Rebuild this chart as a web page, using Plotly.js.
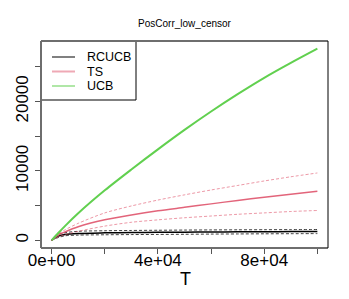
<!DOCTYPE html>
<html>
<head>
<meta charset="utf-8">
<script src="https://cdn.plot.ly/plotly-3.0.1.min.js"></script>
<style>html,body{margin:0;padding:0;background:#fff;}#chart{width:349px;height:299px;}</style>
</head>
<body>
<div id="chart"></div>
<script>
var T = [0, 2500, 5000, 10000, 20000, 30000, 40000, 50000, 60000, 70000, 80000, 90000, 100000];
var UCB = [0, 1050, 2050, 3900, 7200, 10200, 13100, 15900, 18550, 21050, 23400, 25550, 27600];
var TS = [0, 750, 1200, 1950, 2950, 3650, 4250, 4750, 5250, 5750, 6200, 6650, 7060];
var TS_upper = [0, 900, 1500, 2450, 3950, 4950, 5800, 6550, 7250, 7900, 8550, 9150, 9700];
var TS_lower = [0, 500, 800, 1300, 2050, 2600, 2950, 3250, 3500, 3750, 3950, 4150, 4300];
var RCUCB = [0, 600, 850, 1000, 1080, 1120, 1150, 1180, 1200, 1220, 1240, 1255, 1270];
var RCUCB_upper = [0, 850, 1100, 1300, 1380, 1420, 1450, 1480, 1500, 1515, 1530, 1545, 1560];
var RCUCB_lower = [0, 400, 650, 750, 800, 830, 850, 870, 900, 920, 940, 955, 970];
var legendNames = ["RCUCB", "TS", "UCB"];
var legendColors = ["#808080", "#EFA9B5", "#B0E7A7"];
var xTicks = [0, 20000, 40000, 60000, 80000, 100000];
var xTickText = ["0e+00", "", "4e+04", "", "8e+04", ""];
var yTicks = [0, 5000, 10000, 15000, 20000, 25000];
var yTickText = ["0", "", "10000", "", "20000", ""];

function ln(y, color, width, dash) {
  return {x: T, y: y, type: "scatter", mode: "lines", showlegend: false, hoverinfo: "skip",
    line: {color: color, width: width, dash: dash || "solid", shape: "spline", smoothing: 0.8}};
}
var data = [
  ln(RCUCB_upper, "rgba(0,0,0,0.75)", 1, "3px,2px"),
  ln(RCUCB_lower, "rgba(0,0,0,0.75)", 1, "3px,2px"),
  ln(RCUCB, "rgba(0,0,0,1)", 1.5),
  ln(TS_upper, "rgba(223,83,107,0.6)", 1, "3px,2px"),
  ln(TS_lower, "rgba(223,83,107,0.6)", 1, "3px,2px"),
  ln(TS, "rgba(223,83,107,0.9)", 1.5),
  ln(UCB, "rgba(97,208,79,1)", 2)
];
var F = "Liberation Sans, Arial, sans-serif";
// pixel -> paper helpers (plot area: x 41..328, y 41..248)
function px(x) { return (x - 41) / 287; }
function py(y) { return (248 - y) / 207; }

var shapes = [
  {type: "rect", xref: "paper", yref: "paper", x0: px(41), x1: px(136), y0: py(100), y1: py(41),
    fillcolor: "#fff", line: {color: "#000", width: 1}, layer: "above"},
  {type: "line", xref: "paper", yref: "paper", x0: 0, x1: 0, y0: 0, y1: 1, line: {color: "#6e6e6e", width: 2}},
  {type: "line", xref: "paper", yref: "paper", x0: 0, x1: 1, y0: 1, y1: 1, line: {color: "#6e6e6e", width: 2}},
  {type: "line", xref: "paper", yref: "paper", x0: 0, x1: 1, y0: 0, y1: 0, line: {color: "#6e6e6e", width: 2}},
  {type: "line", xref: "paper", yref: "paper", x0: 1, x1: 1, y0: 0, y1: 1, line: {color: "#000", width: 1}}
];
var annotations = [
  {text: "T", xref: "paper", yref: "paper", x: px(185), y: py(279),
    xanchor: "center", yanchor: "middle", showarrow: false, font: {size: 18, family: F, color: "#000"}}
];
var legendY = [57, 71.5, 86];
for (var i = 0; i < legendNames.length; i++) {
  shapes.push({type: "line", xref: "paper", yref: "paper", x0: px(52), x1: px(75), y0: py(legendY[i]), y1: py(legendY[i]),
    line: {color: legendColors[i], width: 2}, layer: "above"});
  annotations.push({text: legendNames[i], xref: "paper", yref: "paper", x: px(85), y: py(legendY[i]),
    xanchor: "left", yanchor: "middle", showarrow: false, font: {size: 12.5, family: F, color: "#000"}});
}

var layout = {
  width: 349, height: 299,
  margin: {l: 41, r: 21, t: 41, b: 51, pad: 0},
  paper_bgcolor: "#fff", plot_bgcolor: "#fff",
  font: {family: F, color: "#000"},
  showlegend: false,
  title: {text: "PosCorr_low_censor", font: {family: F, size: 10, color: "#000"},
    x: 0.5, xref: "paper", xanchor: "center", y: 1 - 23/299, yref: "container", yanchor: "middle"},
  xaxis: {range: [-4000, 104000], tickmode: "array", tickvals: xTicks, ticktext: xTickText,
    ticks: "outside", ticklen: 5, tickcolor: "#555", tickwidth: 1, tickfont: {size: 17, family: F},
    ticklabelstandoff: -8,
    showgrid: false, zeroline: false, showline: false, fixedrange: true},
  yaxis: {range: [-1104, 28704], tickmode: "array", tickvals: yTicks, ticktext: yTickText,
    ticks: "outside", ticklen: 5, tickcolor: "#555", tickwidth: 1, tickangle: -90,
    tickfont: {size: 17, family: F}, showgrid: false, zeroline: false, showline: false, fixedrange: true},
  annotations: annotations,
  shapes: shapes
};
Plotly.newPlot("chart", data, layout, {displayModeBar: false, staticPlot: true});
</script>
</body>
</html>
